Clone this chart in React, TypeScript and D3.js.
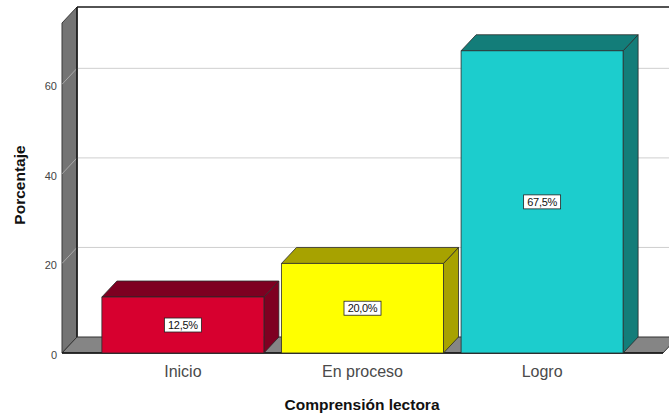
import React from "react";
import * as d3 from "d3";

const categories = ["Inicio", "En proceso", "Logro"];
const values = [12.5, 20.0, 67.5];
const valueLabels = ["12,5%", "20,0%", "67,5%"];
const tickValues = [0, 20, 40, 60];
const frontColors = ["#d7002f", "#ffff00", "#1ccdcd"];
const darkColors = ["#7e0021", "#a7a200", "#137d79"];

const W = 669;
const H = 418;
const DX = 15;
const DY = 16;
const X0 = 62;
const X1 = 663;
const Y0 = 353;
const YTOP = 23;

export default function App() {
  const x = d3
    .scaleBand<string>()
    .domain(categories)
    .range([X0, X1])
    .paddingInner(0.098)
    .paddingOuter(0.222);
  const y = d3.scaleLinear().domain([0, 73.7]).range([Y0, YTOP]);
  const font = "'Liberation Sans', Arial, sans-serif";
  const bw = x.bandwidth();

  return (
    <svg
      width={W}
      height={H}
      style={{ position: "absolute", left: 0, top: 0, background: "#fff" }}
      fontFamily={font}
    >
      {/* back wall */}
      <rect x={X0 + DX} y={YTOP - DY} width={W} height={Y0 - YTOP} fill="#fff" />
      {/* side wall */}
      <polygon
        points={`${X0},${YTOP} ${X0 + DX},${YTOP - DY} ${X0 + DX},${Y0 - DY} ${X0},${Y0}`}
        fill="#747474"
        stroke="#3a3a3a"
        strokeWidth={1}
      />
      {/* gridlines */}
      {tickValues
        .filter((t) => t > 0)
        .map((t) => (
          <g key={t}>
            <line
              x1={X0 + DX}
              x2={W}
              y1={y(t) - DY}
              y2={y(t) - DY}
              stroke="#cfcfcf"
              strokeWidth={1}
            />
            <line
              x1={X0}
              x2={X0 + DX}
              y1={y(t)}
              y2={y(t) - DY}
              stroke="#a8a8a8"
              strokeWidth={1}
            />
          </g>
        ))}
      {/* back wall borders */}
      <line x1={X0 + DX} x2={W} y1={YTOP - DY} y2={YTOP - DY} stroke="#1a1a1a" strokeWidth={1.6} />
      <line x1={X0 + DX} x2={X0 + DX} y1={YTOP - DY} y2={Y0 - DY} stroke="#1a1a1a" strokeWidth={1.6} />
      {/* floor */}
      <polygon
        points={`${X0},${Y0} ${X0 + DX},${Y0 - DY} ${X1 + DX},${Y0 - DY} ${X1},${Y0}`}
        fill="#858585"
        stroke="#333"
        strokeWidth={1}
      />
      <line x1={X0} x2={X1} y1={Y0} y2={Y0} stroke="#111" strokeWidth={1.4} />

      {/* bars */}
      {categories.map((c, i) => {
        const bx = x(c)!;
        const top = y(values[i]);
        return (
          <g key={c} stroke="#2a2a2a" strokeWidth={0.8} strokeLinejoin="round">
            <polygon
              points={`${bx + bw},${top} ${bx + bw + DX},${top - DY} ${bx + bw + DX},${Y0 - DY} ${bx + bw},${Y0}`}
              fill={darkColors[i]}
            />
            <polygon
              points={`${bx},${top} ${bx + DX},${top - DY} ${bx + bw + DX},${top - DY} ${bx + bw},${top}`}
              fill={darkColors[i]}
            />
            <rect x={bx} y={top} width={bw} height={Y0 - top} fill={frontColors[i]} />
          </g>
        );
      })}

      {/* value labels */}
      {categories.map((c, i) => {
        const cx = x(c)! + bw / 2;
        const cy = (y(values[i]) + Y0) / 2;
        const tw = 35;
        return (
          <g key={c + "lbl"}>
            <rect
              x={cx - tw / 2 - 1}
              y={cy - 7}
              width={tw + 2}
              height={14}
              fill="#fff"
              stroke="#222"
              strokeWidth={0.8}
            />
            <text
              x={cx}
              y={cy + 4}
              textAnchor="middle"
              fontSize={11}
              fill="#111"
              letterSpacing={-0.3}
            >
              {valueLabels[i]}
            </text>
          </g>
        );
      })}

      {/* y tick labels */}
      {tickValues.map((t) => (
        <text key={t} x={57} y={y(t) + 6} textAnchor="end" fontSize={11} fill="#444">
          {t}
        </text>
      ))}

      {/* category labels */}
      {categories.map((c) => (
        <text
          key={c + "cat"}
          x={x(c)! + bw / 2}
          y={377}
          textAnchor="middle"
          fontSize={16}
          fill="#4a4a4a"
        >
          {c}
        </text>
      ))}

      {/* axis titles */}
      <text x={362} y={410} textAnchor="middle" fontSize={15.5} fontWeight="bold" fill="#111">
        Comprensión lectora
      </text>
      <text
        transform={`translate(25,185) rotate(-90)`}
        textAnchor="middle"
        fontSize={15.5}
        fontWeight="bold"
        fill="#111"
      >
        Porcentaje
      </text>
    </svg>
  );
}
